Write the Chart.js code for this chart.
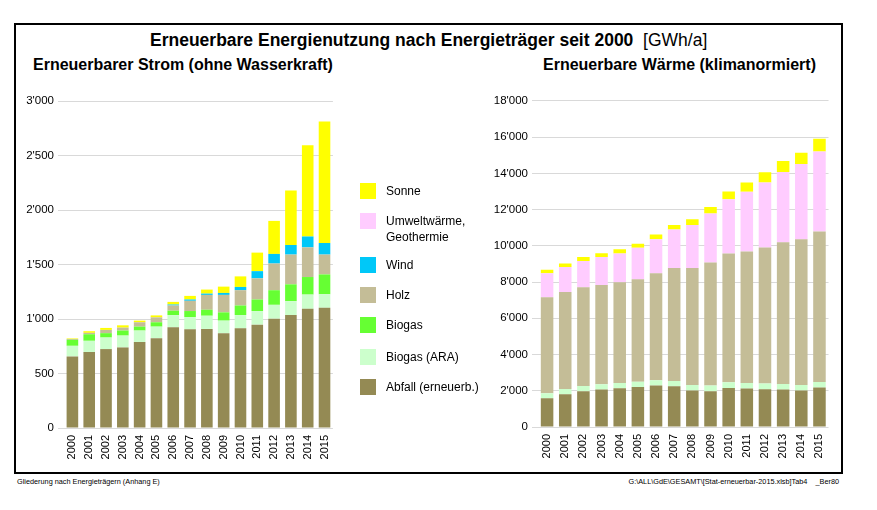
<!DOCTYPE html>
<html>
<head>
<meta charset="utf-8">
<script src="https://cdn.jsdelivr.net/npm/chart.js@4"></script>
<style>
  body { margin: 0; width: 877px; height: 510px; background: #fff; position: relative; overflow: hidden;
         font-family: "Liberation Sans", Arial, sans-serif; color: #000; }
  #frame { position: absolute; left: 14px; top: 23px; width: 825px; height: 447px; border: 2px solid #000; }
  .txt { position: absolute; white-space: nowrap; }
  #title { left: 150px; top: 30px; font-size: 17.5px; font-weight: bold; }
  #title span { font-weight: normal; }
  .sub { top: 56px; font-size: 16px; font-weight: bold; }
  .box { position: absolute; }
  .leg { position: absolute; left: 360px; font-size: 12px; }
  .leg i { position: absolute; left: 0; top: 0; width: 16px; height: 16px; }
  .leg b { position: absolute; left: 26px; top: 0; font-weight: normal; line-height: 16px; white-space: nowrap; }
  .foot { top: 477px; font-size: 7.3px; }
</style>
</head>
<body>
<div id="frame"></div>
<div id="title" class="txt">Erneuerbare Energienutzung nach Energieträger seit 2000&nbsp; <span>[GWh/a]</span></div>
<div class="txt sub" style="left:33px">Erneuerbarer Strom (ohne Wasserkraft)</div>
<div class="txt sub" style="left:543px">Erneuerbare Wärme (klimanormiert)</div>

<div class="box" style="left:0;top:90px"><canvas id="strom" width="345" height="385"></canvas></div>
<div class="box" style="left:470px;top:90px"><canvas id="waerme" width="370" height="385"></canvas></div>

<div id="legend"></div>

<div class="txt foot" style="left:17px">Gliederung nach Energieträgern (Anhang E)</div>
<div class="txt foot" style="right:38px">G:\ALL\GdE\GESAMT\[Stat-erneuerbar-2015.xlsb]Tab4 &nbsp; &nbsp;_Ber80</div>

<script>
const years = ["2000","2001","2002","2003","2004","2005","2006","2007","2008","2009","2010","2011","2012","2013","2014","2015"];

// Strom (GWh/a)
const stromAbfall  = [657, 697, 724, 739, 788, 824, 924, 906, 909, 870, 915, 948, 1003, 1036, 1094, 1103];
const stromARA     = [97, 103, 106, 109, 106, 106, 112, 112, 121, 115, 121, 125, 127, 128, 130, 124];
const stromBiogas  = [55, 60, 40, 46, 36, 40, 40, 55, 55, 76, 88, 106, 134, 154, 161, 182];
const stromHolz    = [8, 13, 30, 27, 40, 45, 48, 94, 136, 160, 140, 194, 245, 273, 272, 182];
const stromWind    = [0, 0, 0, 0, 0, 0, 9, 12, 12, 18, 30, 66, 88, 88, 100, 106];
const stromSonne   = [5, 15, 18, 21, 15, 18, 24, 33, 37, 58, 97, 170, 303, 500, 837, 1115];

// Wärme (GWh/a)
const waermeAbfall = [1590, 1810, 1974, 2066, 2139, 2212, 2285, 2248, 2011, 1974, 2157, 2120, 2084, 2066, 2011, 2175];
const waermeARA    = [275, 292, 293, 292, 292, 292, 292, 293, 311, 311, 311, 311, 311, 310, 311, 311];
const waermeHolz   = [5301, 5356, 5447, 5484, 5557, 5649, 5905, 6233, 6452, 6800, 7111, 7257, 7513, 7824, 8043, 8299];
const waermeUmwelt = [1316, 1371, 1444, 1536, 1591, 1737, 1883, 2121, 2377, 2706, 2998, 3291, 3583, 3876, 4149, 4424];
const waermeSonne  = [201, 201, 220, 219, 237, 219, 256, 256, 311, 347, 420, 512, 566, 603, 622, 695];

const colors = {
  Sonne: "#ffff00",
  Umwelt: "#ffccff",
  Wind: "#00c8f8",
  Holz: "#c4bd97",
  Biogas: "#66ff33",
  ARA: "#ccffcc",
  Abfall: "#948a54"
};

const legendItems = [
  ["Sonne", "Sonne", 183],
  ["Umweltwärme,<br>Geothermie", "Umwelt", 213],
  ["Wind", "Wind", 257],
  ["Holz", "Holz", 287],
  ["Biogas", "Biogas", 317],
  ["Biogas (ARA)", "ARA", 349],
  ["Abfall (erneuerb.)", "Abfall", 379]
];

const legend = document.getElementById("legend");
legendItems.forEach(function (it) {
  const d = document.createElement("div");
  d.className = "leg";
  d.style.top = it[2] + "px";
  d.innerHTML = '<i style="background:' + colors[it[1]] + '"></i><b>' + it[0] + '</b>';
  legend.appendChild(d);
});

function fmt(v) {
  return String(v).replace(/\B(?=(\d{3})+(?!\d))/g, "'");
}

function ds(label, data, col) {
  return { label: label, data: data, backgroundColor: col, borderWidth: 0, barPercentage: 0.69, categoryPercentage: 1 };
}

function makeChart(id, datasets, max, step, yWidth, xHeight, pad) {
  return new Chart(document.getElementById(id), {
    type: "bar",
    data: { labels: years, datasets: datasets },
    options: {
      responsive: false,
      animation: false,
      layout: { padding: pad },
      plugins: { legend: { display: false }, tooltip: { enabled: false } },
      scales: {
        x: {
          stacked: true,
          grid: { display: false, drawTicks: false },
          border: { display: false },
          ticks: { minRotation: 90, maxRotation: 90, padding: 7, color: "#000",
                    font: { family: "Liberation Sans", size: 11 } },
          afterFit: function (s) { s.height = xHeight; }
        },
        y: {
          stacked: true,
          min: 0,
          max: max,
          grid: { color: "#d9d9d9", tickLength: 6, tickColor: "#d9d9d9" },
          border: { display: false },
          ticks: { stepSize: step, padding: 4, color: "#000", callback: fmt,
                   font: { family: "Liberation Sans", size: 11.5 } },
          afterFit: function (s) { s.width = yWidth; }
        }
      }
    }
  });
}

makeChart("strom", [
  ds("Abfall (erneuerb.)", stromAbfall, colors.Abfall),
  ds("Biogas (ARA)", stromARA, colors.ARA),
  ds("Biogas", stromBiogas, colors.Biogas),
  ds("Holz", stromHolz, colors.Holz),
  ds("Wind", stromWind, colors.Wind),
  ds("Sonne", stromSonne, colors.Sonne)
], 3000, 500, 64, 47, { top: 11, right: 9, left: 0, bottom: 0 });

makeChart("waerme", [
  ds("Abfall (erneuerb.)", waermeAbfall, colors.Abfall),
  ds("Biogas (ARA)", waermeARA, colors.ARA),
  ds("Holz", waermeHolz, colors.Holz),
  ds("Umweltwärme, Geothermie", waermeUmwelt, colors.Umwelt),
  ds("Sonne", waermeSonne, colors.Sonne)
], 18000, 2000, 68, 48, { top: 9, right: 11, left: 0, bottom: 0 });
</script>
</body>
</html>
